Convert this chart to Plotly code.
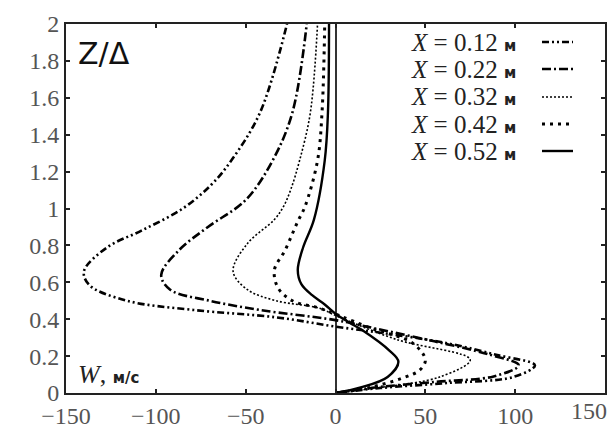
import plotly.graph_objects as go

# Data: Z/Δ (vertical) and W, m/s (horizontal) for each section X
z1 = [0, 0.027, 0.054, 0.087, 0.15, 0.206, 0.27, 0.32, 0.36, 0.41, 0.45, 0.50, 0.585, 0.66, 0.79, 0.88, 1.0, 1.13, 1.26, 1.52, 2.0]
w1 = [0, 25, 62, 99, 111, 90, 62, 30, 0, -33, -79, -116, -137, -140, -127, -108, -85, -69, -58, -42, -27]

z2 = [0, 0.03, 0.06, 0.09, 0.15, 0.21, 0.28, 0.35, 0.395, 0.45, 0.50, 0.56, 0.64, 0.775, 0.90, 1.046, 1.26, 1.52, 2.0]
w2 = [0, 22, 55, 88, 102, 85, 55, 22, 0, -42, -70, -92, -97, -87, -71, -50, -35, -24, -16]

z3 = [0, 0.03, 0.087, 0.18, 0.29, 0.42, 0.46, 0.50, 0.56, 0.66, 0.81, 0.94, 1.01, 1.1, 1.26, 1.52, 2.0]
w3 = [0, 25, 58, 75, 34, 0, -9, -33, -49, -57, -49, -34, -29, -25, -20, -14, -10]

z4 = [0, 0.03, 0.08, 0.125, 0.18, 0.27, 0.35, 0.42, 0.46, 0.50, 0.57, 0.667, 0.775, 0.93, 1.01, 1.26, 1.52, 2.0]
w4 = [0, 19, 37, 47, 50, 43, 20, 2, -9, -24, -32, -34, -28, -21, -17, -10, -7.5, -6]

z5 = [0, 0.03, 0.087, 0.17, 0.23, 0.34, 0.38, 0.43, 0.48, 0.53, 0.59, 0.667, 0.79, 0.94, 1.26, 1.52, 2.0]
w5 = [0, 14, 29, 35, 30, 15, 8, 0, -6, -13, -19, -21, -18, -12, -6, -4.2, -3.6]

labels = ["0.12", "0.22", "0.32", "0.42", "0.52"]
x_ticks = [-150, -100, -50, 0, 50, 100]
x_last_tick = 150
y_ticks = [0, 0.2, 0.4, 0.6, 0.8, 1, 1.2, 1.4, 1.6, 1.8, 2]

series = [(w1, z1), (w2, z2), (w3, z3), (w4, z4), (w5, z5)]
styles = [
    dict(color="black", width=2.6, dash="7px,3px,2px,3px,2px,3px"),
    dict(color="black", width=2.6, dash="9px,3px,2px,3px"),
    dict(color="black", width=1.6, dash="2px,2px"),
    dict(color="black", width=3.0, dash="3px,5px"),
    dict(color="black", width=2.4, dash="solid"),
]

fig = go.Figure()
for (w, z), st, lab in zip(series, styles, labels):
    fig.add_trace(go.Scatter(x=w, y=z, mode="lines", line=dict(shape="spline", smoothing=1.0, **st),
                             name=f"X = {lab} м", showlegend=False))

serif = "Liberation Serif, DejaVu Serif, serif"
sans = "DejaVu Sans, Liberation Sans, sans-serif"

L, R, T, B = 66, 605, 24, 393
def px(xp):
    return (xp - L) / (R - L)
def py(yp):
    return (B - yp) / (B - T)

# manual legend (text on left, sample on right)
legend_y = [42, 69, 97, 124, 151]
for lab, st, yy in zip(labels, styles, legend_y):
    fig.add_annotation(xref="paper", yref="paper", x=px(518), y=py(yy), xanchor="right", yanchor="middle",
                       showarrow=False,
                       text=f"<i>X</i> = {lab} <span style='font-family:{sans};font-size:15px'><b>м</b></span>",
                       font=dict(family=serif, size=25, color="#222"))
    fig.add_shape(type="line", xref="paper", yref="paper", x0=px(542), x1=px(573),
                  y0=py(yy), y1=py(yy), line=st)

fig.add_annotation(xref="paper", yref="paper", x=px(76), y=py(34), xanchor="left", yanchor="top",
                   showarrow=False, text="Z/Δ", font=dict(family=sans, size=30, color="#111"))
fig.add_annotation(xref="paper", yref="paper", x=px(76), y=py(374), xanchor="left", yanchor="middle",
                   showarrow=False,
                   text=f"<i>W</i>, <span style='font-family:{sans};font-size:15px'><b>м/с</b></span>",
                   font=dict(family=serif, size=26, color="#222"))
# last x tick label (shifted left to fit inside the page, as in the original)
fig.add_annotation(xref="paper", yref="paper", x=px(609), y=py(411), xanchor="right", yanchor="middle",
                   showarrow=False, text=str(x_last_tick), font=dict(family=serif, size=24, color="#555"))

axis_common = dict(showline=True, linecolor="#222", linewidth=2, mirror="ticks", ticks="inside",
                   ticklen=4, tickwidth=1.5, tickcolor="#222", showgrid=False, automargin=False,
                   tickfont=dict(family=serif, size=24, color="#555"))
fig.update_xaxes(range=[-150, 150], tickvals=x_ticks, zeroline=True, zerolinecolor="#333",
                 zerolinewidth=1.5, **axis_common)
fig.update_yaxes(range=[0, 2], tickvals=y_ticks, zeroline=False, **axis_common)

fig.update_layout(width=609, height=432, margin=dict(l=L, r=609 - R, t=T, b=432 - B),
                  paper_bgcolor="white", plot_bgcolor="white")

fig.write_html("out.html")
